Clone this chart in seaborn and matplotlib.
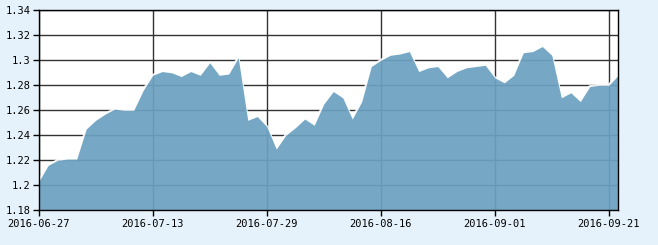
import matplotlib
matplotlib.use("Agg")
import matplotlib.pyplot as plt
import seaborn as sns
import pandas as pd

values = [1.203, 1.216, 1.220, 1.221, 1.221, 1.245, 1.252, 1.257, 1.261, 1.260,
          1.260, 1.276, 1.288, 1.291, 1.290, 1.287, 1.291, 1.288, 1.298, 1.288,
          1.289, 1.302, 1.252, 1.255, 1.247, 1.229, 1.240, 1.246, 1.253, 1.248,
          1.265, 1.275, 1.270, 1.253, 1.267, 1.295, 1.300, 1.304, 1.305, 1.307,
          1.291, 1.294, 1.295, 1.286, 1.291, 1.294, 1.295, 1.296, 1.286, 1.282,
          1.288, 1.306, 1.307, 1.311, 1.304, 1.270, 1.274, 1.267, 1.279, 1.280,
          1.280, 1.288]
tick_labels = ["2016-06-27", "2016-07-13", "2016-07-29", "2016-08-16", "2016-09-01", "2016-09-21"]
tick_step = 12
y_ticks = [1.18, 1.20, 1.22, 1.24, 1.26, 1.28, 1.30, 1.32, 1.34]
y_tick_labels = ["1.18", "1.2", "1.22", "1.24", "1.26", "1.28", "1.3", "1.32", "1.34"]

df = pd.DataFrame({"idx": list(range(len(values))), "value": values})

sns.set_style("white")
plt.rcParams["font.family"] = ["DejaVu Sans Mono"]

bg = "#E6F2FB"
fig = plt.figure(figsize=(6.58, 2.45), dpi=100, facecolor=bg)
ax = fig.add_axes([38.7 / 658, 34.7 / 245, (618.3 - 38.7) / 658, 200 / 245])
ax.set_facecolor("white")

ax.set_axisbelow(True)
ax.grid(True, color="#333333", linewidth=1.0, zorder=0)

sns.lineplot(data=df, x="idx", y="value", ax=ax, color="white", linewidth=2.0,
             alpha=0.9, zorder=1.5)
ax.fill_between(df["idx"], df["value"], 1.18, color="#6CA2C2", alpha=0.93,
                linewidth=0, zorder=2)

ax.set_xlim(0, len(values) - 1)
ax.set_ylim(1.18, 1.34)
ax.set_xticks([i * tick_step for i in range(len(tick_labels))])
ax.set_xticklabels(tick_labels)
ax.set_yticks(y_ticks)
ax.set_yticklabels(y_tick_labels)
ax.set_xlabel("")
ax.set_ylabel("")

for s in ax.spines.values():
    s.set_color("black")
    s.set_linewidth(1.0)
    s.set_zorder(3)

ax.tick_params(axis="both", which="both", direction="out", length=4, width=1,
               color="black", labelsize=7.5, labelcolor="black", pad=2,
               bottom=True, left=True, top=False, right=False)

fig.savefig("out.png", dpi=100, facecolor=bg)
